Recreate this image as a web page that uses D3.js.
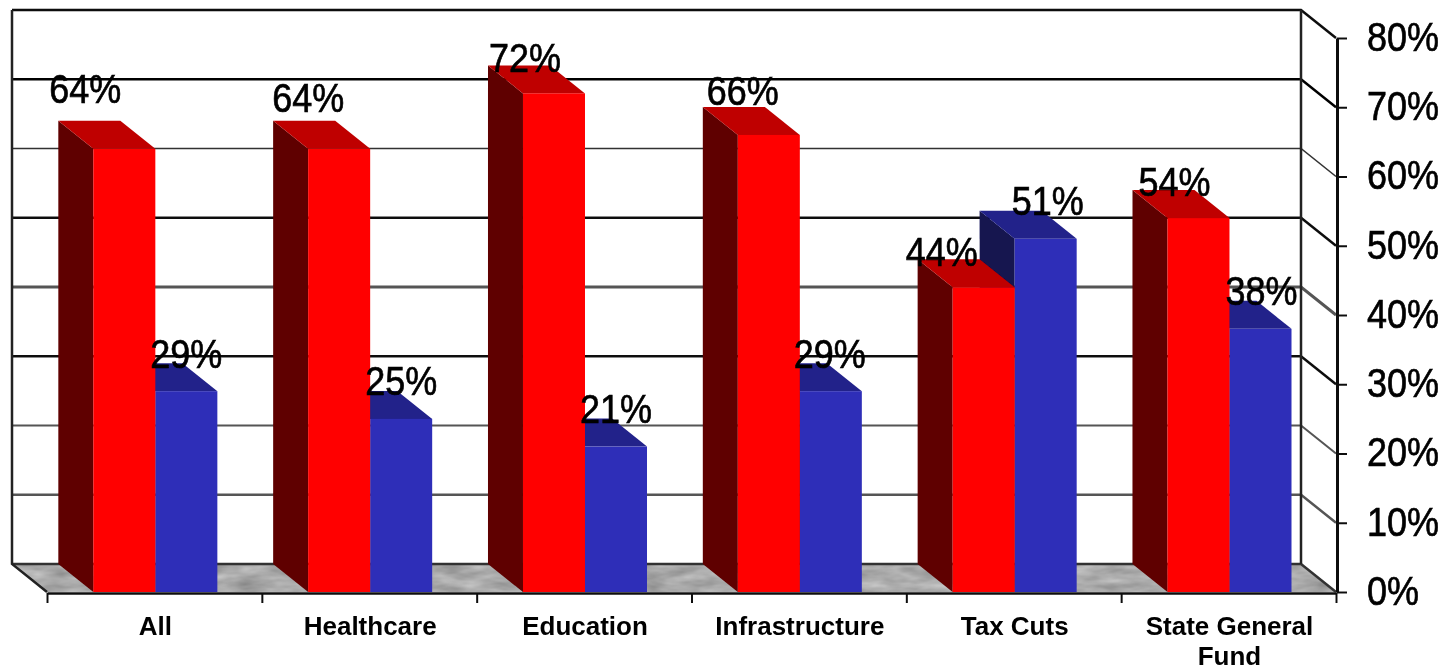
<!DOCTYPE html>
<html>
<head>
<meta charset="utf-8">
<script src="https://cdn.jsdelivr.net/npm/d3@7"></script>
<style>
  html, body { margin: 0; background: #fff; overflow: hidden; }
  text { font-family: "Liberation Sans", Arial, sans-serif; fill: #000; }
</style>
</head>
<body>
<div id="chart"></div>
<script>
var categories = ["All", "Healthcare", "Education", "Infrastructure", "Tax Cuts", "State General Fund"];
var redValues = [64, 64, 72, 66, 44, 54];
var blueValues = [29, 25, 21, 29, 51, 38];
var yTicks = [0, 10, 20, 30, 40, 50, 60, 70, 80];

// the data labels were placed by hand in the original, so they need a nudge
var redLabelDx = [-39, -31, -29, -26, -42, -24];
var redLabelDy = [-30, -21, -6, -14, -6, -6];
var blueLabelDx = [0, 0, 0, -1, 2, 1];

// the source is resampled, so grid lines come out uneven
var gridWidths = [2.5, 2.5, 2, 2.5, 3, 2.5, 1.6, 2.5, 2.5];
var gridColors = ["#333", "#555", "#555", "#111", "#555", "#111", "#333", "#000", "#111"];

var width = 1441, height = 670;
var depthX = 35, depthY = 28;
var textStretch = 1.15;

var svg = d3.select("#chart").append("svg")
    .attr("width", width)
    .attr("height", height)
    .style("display", "block");

var defs = svg.append("defs");

// slight softness, the source is a scaled up screenshot
defs.append("filter").attr("id", "soft")
    .append("feGaussianBlur").attr("stdDeviation", 0.55);

// mottled grey for the floor
var marble = defs.append("filter").attr("id", "marble")
    .attr("x", 0).attr("y", 0).attr("width", 1).attr("height", 1)
    .attr("color-interpolation-filters", "sRGB");
marble.append("feTurbulence")
    .attr("type", "fractalNoise")
    .attr("baseFrequency", "0.03 0.1")
    .attr("numOctaves", 3)
    .attr("seed", 4);
marble.append("feColorMatrix")
    .attr("values", "0.3 0 0 0 0.52  0.3 0 0 0 0.52  0.3 0 0 0 0.52  0 0 0 0 1");
marble.append("feComposite")
    .attr("in2", "SourceGraphic")
    .attr("operator", "in");

var root = svg.append("g").attr("filter", "url(#soft)");

var y = d3.scaleLinear().domain([0, 80]).range([592, 38]);

var x0 = d3.scaleBand()
    .domain(categories)
    .range([47, 1336])
    .paddingInner(0.4227)
    .paddingOuter(0.2114)
    .align(0.51);

var x1 = d3.scaleBand()
    .domain(["red", "blue"])
    .range([0, x0.bandwidth()]);

var xEdges = d3.scaleLinear().domain([0, categories.length]).range([47, 1336]);

var left = xEdges(0), right = xEdges(categories.length);

var line = d3.line();

function poly(pts) {
    return line(pts) + "Z";
}

// floor
root.append("path")
    .attr("d", poly([
        [left - depthX, y(0) - depthY],
        [right - depthX, y(0) - depthY],
        [right, y(0)],
        [left, y(0)]
    ]))
    .attr("fill", "#a9a9a9")
    .attr("filter", "url(#marble)");

// back wall grid and the side lines running to the axis
root.selectAll(".grid")
    .data(yTicks)
    .enter().append("path")
    .attr("class", "grid")
    .attr("d", function(d) {
        return line([
            [left - depthX, y(d) - depthY],
            [right - depthX, y(d) - depthY],
            [right, y(d)]
        ]);
    })
    .attr("fill", "none")
    .attr("stroke", function(d, i) { return gridColors[i]; })
    .attr("stroke-width", function(d, i) { return gridWidths[i]; });

// wall uprights and left floor edge
root.append("path")
    .attr("d", line([
        [left, y(0)],
        [left - depthX, y(0) - depthY],
        [left - depthX, y(80) - depthY]
    ]))
    .attr("fill", "none")
    .attr("stroke", "#222")
    .attr("stroke-width", 2.5);

root.append("path")
    .attr("d", line([
        [right - depthX, y(80) - depthY],
        [right - depthX, y(0) - depthY]
    ]))
    .attr("fill", "none")
    .attr("stroke", "#222")
    .attr("stroke-width", 2.5);

function drawBar(g, xPos, w, value, colors) {
    var top = y(value), base = y(0);
    // left side
    g.append("path")
        .attr("d", poly([
            [xPos - depthX, top - depthY],
            [xPos, top],
            [xPos, base],
            [xPos - depthX, base - depthY]
        ]))
        .attr("fill", colors.side);
    // top
    g.append("path")
        .attr("d", poly([
            [xPos - depthX, top - depthY],
            [xPos + w - depthX, top - depthY],
            [xPos + w, top],
            [xPos, top]
        ]))
        .attr("fill", colors.top);
    // front
    g.append("rect")
        .attr("x", xPos)
        .attr("y", top)
        .attr("width", w)
        .attr("height", base - top)
        .attr("fill", colors.front);
}

var redColors = {front: "#ff0000", top: "#bf0000", side: "#5f0000"};
var blueColors = {front: "#2e2eb8", top: "#20208a", side: "#12124f"};

// blue goes first so the red top sits over a taller blue side
categories.forEach(function(c, i) {
    var g = root.append("g").attr("class", "bars");
    drawBar(g, x0(c) + x1("blue"), x1.bandwidth(), blueValues[i], blueColors);
    drawBar(g, x0(c) + x1("red"), x1.bandwidth(), redValues[i], redColors);
});

// axes
var yAxis = root.append("g")
    .attr("transform", "translate(" + (right + 1) + ",0)")
    .call(d3.axisRight(y)
        .tickValues(yTicks)
        .tickSize(10)
        .tickSizeOuter(0)
        .tickFormat(function(d) { return d + "%"; }));

yAxis.select(".domain").attr("stroke", "#111").attr("stroke-width", 3);
yAxis.selectAll(".tick line").attr("stroke", "#111").attr("stroke-width", 2);
yAxis.selectAll(".tick text")
    .attr("x", 0)
    .attr("dy", "0.3em")
    .attr("transform", "translate(30,0) scale(1," + textStretch + ")")
    .style("font-family", "'Liberation Sans', Arial, sans-serif")
    .style("font-size", "36px")
    .style("stroke", "#000")
    .style("stroke-width", 0.6);

var xTickAxis = root.append("g")
    .attr("transform", "translate(0," + (y(0) + 1) + ")")
    .call(d3.axisBottom(xEdges)
        .tickValues(d3.range(categories.length + 1))
        .tickSize(10)
        .tickSizeOuter(0)
        .tickFormat(""));

xTickAxis.select(".domain").attr("stroke", "#111").attr("stroke-width", 2.5);
xTickAxis.selectAll(".tick line").attr("stroke", "#111").attr("stroke-width", 2);

var xLabels = root.append("g")
    .attr("transform", "translate(0,634.5)")
    .call(d3.axisBottom(x0).tickSize(0).tickPadding(0));

xLabels.select(".domain").remove();

xLabels.selectAll(".tick text").each(function(d) {
    var text = d3.select(this);
    // long names wrap at the last space
    var lines = d.length > 14
        ? [d.slice(0, d.lastIndexOf(" ")), d.slice(d.lastIndexOf(" ") + 1)]
        : [d];
    text.text(null)
        .attr("y", 0)
        .attr("dy", null)
        .style("font-family", "'Liberation Sans', Arial, sans-serif")
        .style("font-size", "26px")
        .style("font-weight", "bold");
    lines.forEach(function(l, n) {
        text.append("tspan")
            .attr("x", 0)
            .attr("y", n * 30)
            .text(l);
    });
});

// data labels
function drawLabel(cx, cy, value) {
    root.append("text")
        .attr("class", "data-label")
        .attr("text-anchor", "middle")
        .attr("dy", "0.3em")
        .attr("transform", "translate(" + cx + "," + cy + ") scale(1," + textStretch + ")")
        .style("font-size", "36px")
        .style("stroke", "#000")
        .style("stroke-width", 0.6)
        .text(value + "%");
}

categories.forEach(function(c, i) {
    var w = x1.bandwidth();
    drawLabel(x0(c) + x1("red") + w / 2 + redLabelDx[i], y(redValues[i]) - depthY + redLabelDy[i], redValues[i]);
    drawLabel(x0(c) + x1("blue") + w / 2 + blueLabelDx[i], y(blueValues[i]) - depthY - 8, blueValues[i]);
});
</script>
</body>
</html>
